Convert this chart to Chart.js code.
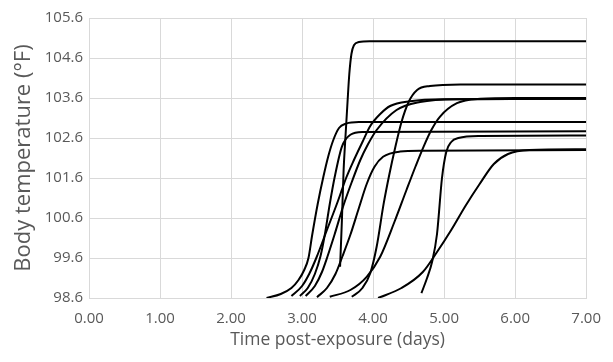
<!DOCTYPE html>
<html>
<head>
<meta charset="utf-8">
<script src="https://cdn.jsdelivr.net/npm/chart.js@4/dist/chart.umd.min.js"></script>
<style>
  html, body { margin: 0; padding: 0; background: #ffffff; }
  #wrap { width: 613px; height: 362px; }
</style>
</head>
<body>
<div id="wrap"><canvas id="c" width="613" height="362"></canvas></div>
<script>
// Axis ticks
const xTicks = [0, 1, 2, 3, 4, 5, 6, 7];
const yTicks = [98.6, 99.6, 100.6, 101.6, 102.6, 103.6, 104.6, 105.6];

// Body temperature traces, one pair of arrays per animal (days, °F)
const daysA = [3.535, 3.56, 3.585, 3.61, 3.64, 3.665, 3.695, 3.73, 3.80, 3.95, 7.0];
const tempA = [99.38, 100.5, 101.8, 102.6, 103.5, 104.2, 104.7, 104.92, 105.0, 105.02, 105.02];

const daysB = [2.50, 2.70, 2.85, 2.95, 3.03, 3.09, 3.14, 3.22, 3.30, 3.37, 3.44, 3.52, 3.62, 3.80, 7.0];
const tempB = [98.6, 98.7, 98.85, 99.05, 99.3, 99.6, 100.15, 100.95, 101.63, 102.15, 102.55, 102.85, 102.96, 103.0, 103.0];

const daysC = [2.97, 3.08, 3.18, 3.26, 3.32, 3.39, 3.46, 3.56, 3.68, 3.85, 7.0];
const tempC = [98.65, 98.85, 99.2, 99.65, 100.18, 100.95, 101.63, 102.38, 102.68, 102.75, 102.77];

const daysD = [2.85, 3.0, 3.1, 3.2, 3.35, 3.5, 3.62, 3.73, 3.85, 3.96, 4.1, 4.24, 4.52, 5.0, 7.0];
const tempD = [98.65, 98.9, 99.2, 99.6, 100.3, 101.0, 101.6, 102.05, 102.5, 102.9, 103.2, 103.4, 103.52, 103.57, 103.58];

const daysE = [3.05, 3.18, 3.28, 3.36, 3.46, 3.58, 3.70, 3.82, 3.93, 4.05, 4.33, 4.66, 5.2, 7.0];
const tempE = [98.65, 98.9, 99.25, 99.65, 100.2, 100.9, 101.5, 102.05, 102.45, 102.8, 103.3, 103.5, 103.57, 103.58];

const daysF = [3.21, 3.35, 3.47, 3.57, 3.68, 3.80, 3.91, 4.02, 4.14, 4.38, 4.70, 7.0];
const tempF = [98.62, 98.85, 99.2, 99.65, 100.18, 100.85, 101.45, 101.88, 102.13, 102.26, 102.28, 102.3];

const daysG = [3.39, 3.68, 3.91, 4.10, 4.30, 4.47, 4.60, 4.71, 4.82, 4.94, 5.18, 5.51, 6.0, 7.0];
const tempG = [98.63, 98.8, 99.13, 99.63, 100.5, 101.3, 101.9, 102.38, 102.8, 103.13, 103.47, 103.58, 103.6, 103.6];

const daysH = [3.70, 3.85, 3.96, 4.05, 4.15, 4.23, 4.31, 4.40, 4.50, 4.62, 4.80, 5.23, 7.0];
const tempH = [98.63, 98.85, 99.22, 99.88, 100.97, 101.7, 102.35, 103.0, 103.5, 103.8, 103.9, 103.94, 103.94];

const daysI = [4.07, 4.4, 4.7, 4.9, 5.1, 5.3, 5.5, 5.7, 5.9, 6.2, 7.0];
const tempI = [98.6, 98.85, 99.25, 99.75, 100.3, 100.9, 101.45, 101.95, 102.2, 102.3, 102.32];

const daysJ = [4.68, 4.76, 4.83, 4.90, 4.97, 5.03, 5.10, 5.20, 5.50, 7.0];
const tempJ = [98.72, 99.1, 99.5, 100.2, 101.6, 102.25, 102.5, 102.6, 102.65, 102.66];

const traces = [
  [daysA, tempA], [daysB, tempB], [daysC, tempC], [daysD, tempD], [daysE, tempE],
  [daysF, tempF], [daysG, tempG], [daysH, tempH], [daysI, tempI], [daysJ, tempJ]
];

const textColor = '#595959';
const gridColor = '#d9d9d9';
const fontFamily = '"Open Sans", "DejaVu Sans", sans-serif';

const datasets = traces.map(([d, t]) => ({
  data: d.map((x, i) => ({ x: x, y: t[i] })),
  borderColor: '#000000',
  borderWidth: 2,
  pointRadius: 0,
  fill: false,
  cubicInterpolationMode: 'monotone'
}));

new Chart(document.getElementById('c'), {
  type: 'line',
  data: { datasets: datasets },
  options: {
    responsive: false,
    animation: false,
    devicePixelRatio: 1,
    layout: { padding: { left: 0, right: 26, top: 18, bottom: 0 } },
    plugins: { legend: { display: false }, tooltip: { enabled: false } },
    scales: {
      x: {
        type: 'linear',
        min: xTicks[0],
        max: xTicks[xTicks.length - 1],
        afterBuildTicks: (s) => { s.ticks = xTicks.map(v => ({ value: v })); },
        afterFit: (s) => { s.height = 64; },
        grid: { color: gridColor, lineWidth: 1, drawTicks: false },
        border: { color: gridColor, width: 1 },
        ticks: {
          color: textColor,
          font: { family: fontFamily, size: 15 },
          padding: 12,
          maxRotation: 0,
          callback: (v) => Number(v).toFixed(2)
        },
        title: {
          display: true,
          text: 'Time post-exposure (days)',
          color: textColor,
          font: { family: fontFamily, size: 17.5 },
          padding: { top: 0, bottom: 11 }
        }
      },
      y: {
        type: 'linear',
        min: yTicks[0],
        max: yTicks[yTicks.length - 1],
        afterBuildTicks: (s) => { s.ticks = yTicks.map(v => ({ value: v })); },
        afterFit: (s) => { s.width = 89; },
        grid: { color: gridColor, lineWidth: 1, drawTicks: false },
        border: { color: gridColor, width: 1 },
        ticks: {
          color: textColor,
          font: { family: fontFamily, size: 15 },
          padding: 6,
          callback: (v) => Number(v).toFixed(1)
        },
        title: {
          display: true,
          text: 'Body temperature (°F)',
          color: textColor,
          font: { family: fontFamily, size: 22 },
          padding: { top: 11, bottom: 0 }
        }
      }
    }
  }
});
</script>
</body>
</html>
